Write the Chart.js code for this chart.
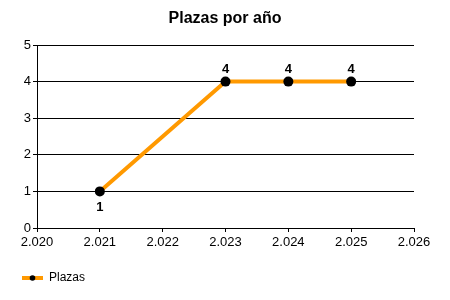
<!DOCTYPE html>
<html>
<head>
<meta charset="utf-8">
<script src="https://cdn.jsdelivr.net/npm/chart.js@4/dist/chart.umd.min.js"></script>
<style>
html,body{margin:0;padding:0;background:#fff;}
#wrap{width:450px;height:300px;position:relative;}
</style>
</head>
<body>
<div id="wrap"><canvas id="c" width="450" height="300"></canvas></div>
<script>
const chartTitle = 'Plazas por año';
const seriesName = 'Plazas';
const years = [2021, 2023, 2024, 2025];
const plazas = [1, 4, 4, 4];
const xMin = 2020, xMax = 2026;
const yMin = 0, yMax = 5;

const FONT = '"Liberation Sans", Arial, sans-serif';
const ORANGE = '#FF9900';

function fmtThousands(v){
  return String(Math.round(v)).replace(/\B(?=(\d{3})+(?!\d))/g, '.');
}

const pointData = years.map((y, i) => ({x: y, y: plazas[i]}));

const titlePlugin = {
  id: 'centeredTitle',
  afterDraw(chart){
    const ctx = chart.ctx;
    ctx.save();
    ctx.font = 'bold 16px ' + FONT;
    ctx.fillStyle = '#000';
    ctx.textAlign = 'center';
    ctx.textBaseline = 'middle';
    ctx.fillText(chartTitle, chart.width / 2, 19);
    ctx.restore();
  }
};

const dataLabels = {
  id: 'dataLabels',
  afterDatasetsDraw(chart){
    const ctx = chart.ctx;
    const meta = chart.getDatasetMeta(0);
    ctx.save();
    ctx.font = 'bold 13px ' + FONT;
    ctx.fillStyle = '#000';
    ctx.textAlign = 'center';
    meta.data.forEach((pt, i) => {
      const v = plazas[i];
      const next = plazas[i + 1];
      const below = next !== undefined && next > v;
      if (below){
        ctx.textBaseline = 'top';
        ctx.fillText(String(v), pt.x, pt.y + 10);
      } else {
        ctx.textBaseline = 'bottom';
        ctx.fillText(String(v), pt.x, pt.y - 6);
      }
    });
    ctx.restore();
  }
};

const customLegend = {
  id: 'customLegend',
  afterDraw(chart){
    const ctx = chart.ctx;
    const y = 278;
    ctx.save();
    ctx.strokeStyle = ORANGE;
    ctx.lineWidth = 4;
    ctx.beginPath();
    ctx.moveTo(22, y);
    ctx.lineTo(43, y);
    ctx.stroke();
    ctx.fillStyle = '#000';
    ctx.beginPath();
    ctx.arc(32.5, y, 2.8, 0, Math.PI * 2);
    ctx.fill();
    ctx.font = '12px ' + FONT;
    ctx.textAlign = 'left';
    ctx.textBaseline = 'middle';
    ctx.fillText(seriesName, 49, y);
    ctx.restore();
  }
};

new Chart(document.getElementById('c'), {
  type: 'line',
  data: {
    datasets: [{
      label: seriesName,
      data: pointData,
      borderColor: ORANGE,
      backgroundColor: '#000',
      borderWidth: 4,
      pointRadius: 5,
      pointHoverRadius: 5,
      pointBackgroundColor: '#000',
      pointBorderColor: '#000',
      pointBorderWidth: 0,
      tension: 0,
      fill: false
    }]
  },
  options: {
    responsive: false,
    animation: false,
    events: [],
    layout: {padding: {left: 0, right: 36, top: 45, bottom: 0}},
    plugins: {
      legend: {display: false},
      tooltip: {enabled: false},
      title: {display: false}
    },
    scales: {
      x: {
        type: 'linear',
        min: xMin, max: xMax,
        ticks: {
          stepSize: 1,
          color: '#000',
          font: {family: FONT, size: 13},
          padding: 3,
          maxRotation: 0,
          callback: v => fmtThousands(v)
        },
        grid: {display: true, drawOnChartArea: false, drawTicks: true, tickLength: 4, color: '#000', lineWidth: 1},
        border: {display: true, color: '#000', width: 1},
        afterFit(scale){ scale.height = 72; }
      },
      y: {
        min: yMin, max: yMax,
        ticks: {
          stepSize: 1,
          color: '#000',
          font: {family: FONT, size: 13},
          padding: 2
        },
        grid: {display: true, drawOnChartArea: true, drawTicks: true, tickLength: 4, color: '#000', lineWidth: 1},
        border: {display: true, color: '#000', width: 1},
        afterFit(scale){ scale.width = 37; }
      }
    }
  },
  plugins: [titlePlugin, dataLabels, customLegend]
});
</script>
</body>
</html>
